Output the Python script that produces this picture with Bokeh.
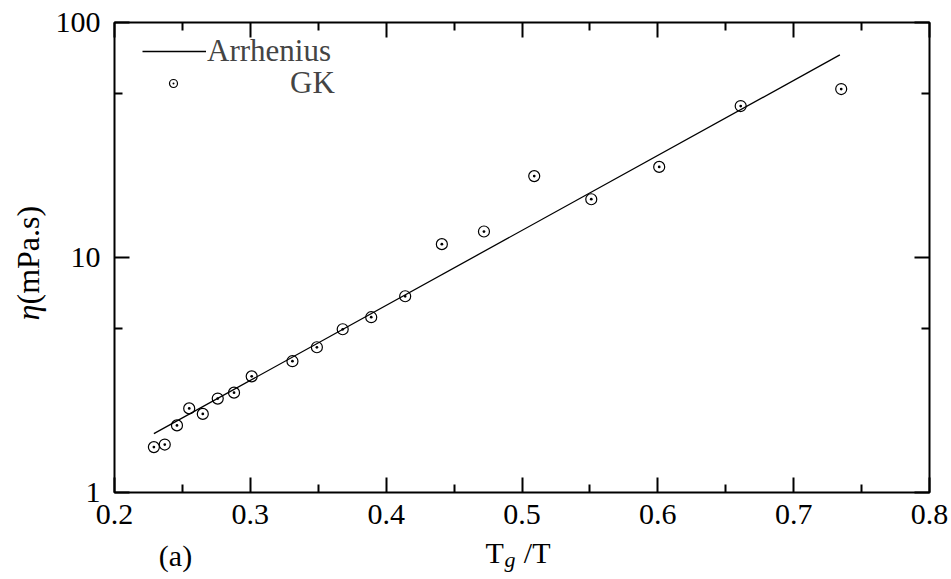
import math

from bokeh.core.properties import value
from bokeh.embed import file_html
from bokeh.layouts import column, row
from bokeh.models import (FixedTicker, Legend, LegendItem, LinearAxis,
                          LogAxis)
from bokeh.plotting import figure
from bokeh.resources import INLINE

# Green-Kubo viscosity against reduced inverse temperature
tg_over_t = [0.229, 0.237, 0.246, 0.255, 0.265, 0.276, 0.288, 0.301, 0.331,
             0.349, 0.368, 0.389, 0.414, 0.441, 0.472, 0.509, 0.551, 0.601,
             0.661, 0.735]
eta_gk = [1.56, 1.60, 1.93, 2.28, 2.16, 2.51, 2.66, 3.12, 3.62, 4.15, 4.95,
          5.57, 6.84, 11.4, 12.9, 22.2, 17.7, 24.3, 44.1, 52.1]

# Arrhenius fit, end points of the straight line on the log scale
arr_x = [0.229, 0.734]
arr_eta = [1.78, 72.8]

x_ticks = [0.2, 0.3, 0.4, 0.5, 0.6, 0.7, 0.8]
x_minor = [0.25, 0.35, 0.45, 0.55, 0.65, 0.75]
y_ticks = [1, 10, 100]
y_minor = [5, 50]
y_tick_labels = {1: "1", 10: "10", 100: "100"}

FONT = "Liberation Serif"
FS = "30px"

LEFT_W = 50      # strip holding the rotated y title
BOTTOM_H = 39    # strip holding the x title and panel tag
W, H = 951, 579

p = figure(width=W - LEFT_W, height=H - BOTTOM_H, x_range=(0.2, 0.8),
           y_range=(1, 100), y_axis_type="log", output_backend="svg",
           toolbar_location=None, min_border_left=64, min_border_right=22,
           min_border_top=22, min_border_bottom=48, frame_align=False,
           background_fill_color="white", border_fill_color="white")
p.grid.visible = False
p.outline_line_color = "black"
p.outline_line_width = 2

xt = FixedTicker(ticks=x_ticks, minor_ticks=x_minor)
yt = FixedTicker(ticks=y_ticks, minor_ticks=y_minor)


def style_axis(ax, ticker, blank_ticks=None):
    ax.ticker = ticker
    ax.axis_line_color = None
    ax.major_tick_in = 15
    ax.major_tick_out = 0
    ax.minor_tick_in = 8
    ax.minor_tick_out = 0
    ax.major_tick_line_width = 2
    ax.minor_tick_line_width = 2
    ax.major_tick_line_color = "black"
    ax.minor_tick_line_color = "black"
    ax.major_label_text_font = FONT
    ax.major_label_text_color = "black"
    ax.major_label_text_font_size = FS
    if blank_ticks is not None:
        # mirrored axis: ticks only, no tick labels
        ax.major_label_overrides = {t: "" for t in blank_ticks}
        ax.major_label_standoff = 0


style_axis(p.xaxis[0], xt)
p.xaxis[0].major_label_standoff = 12
style_axis(p.yaxis[0], yt)
p.yaxis[0].major_label_standoff = 14
p.yaxis[0].major_label_overrides = y_tick_labels

top_ax = LinearAxis()
style_axis(top_ax, xt, x_ticks)
p.add_layout(top_ax, "above")
right_ax = LogAxis()
style_axis(right_ax, yt, y_ticks)
p.add_layout(right_ax, "right")

# data
line_r = p.line(arr_x, arr_eta, line_color="black", line_width=1.3)
pts_r = p.scatter(tg_over_t, eta_gk, marker="circle_dot", size=11,
                  fill_color=None, line_color="black", line_width=1.2)

# legend: line entry with its label to the right, marker entry right-aligned text
leg_common = dict(padding=0, margin=0, spacing=0, glyph_height=30,
                  label_height=30, label_text_font=FONT,
                  label_text_font_size="31px", border_line_alpha=0,
                  background_fill_alpha=0)
leg1 = Legend(items=[LegendItem(label="Arrhenius", renderers=[line_r])],
              location=(28, 423), glyph_width=64, label_standoff=1,
              **leg_common)
leg2 = Legend(items=[LegendItem(label="GK", renderers=[pts_r])],
              location=(49, 391), glyph_width=20, label_standoff=107,
              **leg_common)
p.add_layout(leg1)
p.add_layout(leg2)


def strip(width, height):
    f = figure(width=width, height=height, x_range=(0, width),
               y_range=(0, height), output_backend="svg",
               toolbar_location=None, min_border=0, frame_align=False,
               x_axis_location=None, y_axis_location=None)
    f.grid.visible = False
    f.outline_line_color = None
    f.background_fill_color = "white"
    f.border_fill_color = "white"
    return f


# y title: italic eta followed by the unit, reading upwards
left = strip(LEFT_W, H)
left.text(x=[27], y=[H - 320], text=["η"], angle=math.pi / 2,
          text_font=value(FONT), text_font_size="32px",
          text_font_style="italic", text_align="left",
          text_baseline="alphabetic", text_color="black")
left.text(x=[27], y=[H - 304], text=["(mPa.s)"], angle=math.pi / 2,
          text_font=value(FONT), text_font_size="32px", text_align="left",
          text_baseline="alphabetic", text_color="black")

# x title T_g/T and the panel tag
bottom = strip(W - LEFT_W, BOTTOM_H)
bottom.text(x=[435], y=[27], text=["T"], text_font=value(FONT),
            text_font_size=FS, text_align="left", text_baseline="alphabetic",
            text_color="black")
bottom.text(x=[454], y=[20], text=["g"], text_font=value(FONT),
            text_font_size="22px", text_font_style="italic",
            text_align="left", text_baseline="alphabetic", text_color="black")
bottom.text(x=[500], y=[27], text=["/T"], text_font=value(FONT),
            text_font_size=FS, text_align="right", text_baseline="alphabetic",
            text_color="black")
bottom.text(x=[125], y=[24], text=["(a)"], text_font=value(FONT),
            text_font_size=FS, text_align="center",
            text_baseline="alphabetic", text_color="black")

page = row(left, column(p, bottom, spacing=0), spacing=0)

open("out.html", "w").write(file_html(page, INLINE))
